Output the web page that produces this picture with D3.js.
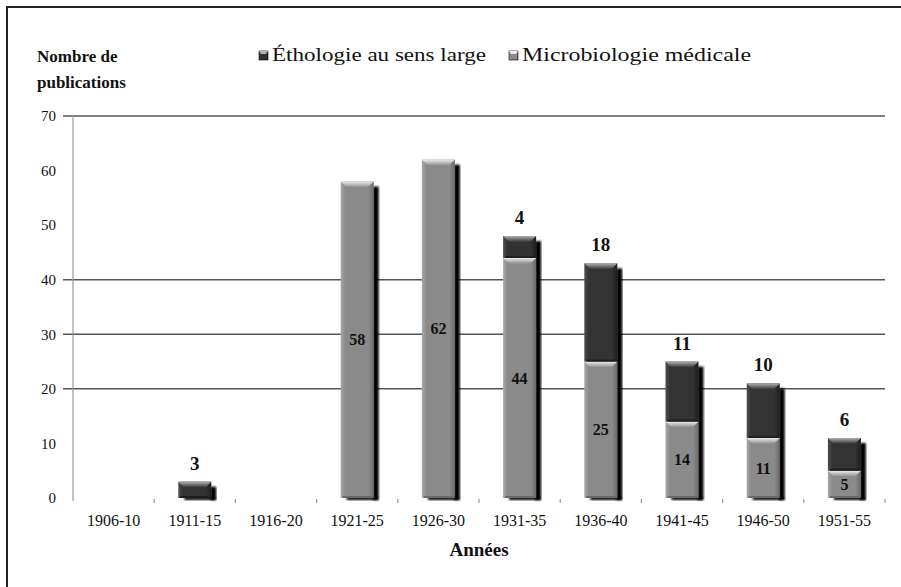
<!DOCTYPE html>
<html>
<head>
<meta charset="utf-8">
<script src="https://cdn.jsdelivr.net/npm/d3@7"></script>
<style>
  body { margin: 0; background: #fff; }
  svg text { fill: #111; }
</style>
</head>
<body>
<div id="chart"></div>
<script>
const width = 901;
const height = 587;
const margin = { top: 116, right: 16, bottom: 92, left: 73 };
const plotW = width - margin.left - margin.right;
const plotH = height - margin.top - margin.bottom;
const serif = "Liberation Serif";

// data
const periods = ["1906-10", "1911-15", "1916-20", "1921-25", "1926-30", "1931-35", "1936-40", "1941-45", "1946-50", "1951-55"];
const microbiologie = [0, 0, 0, 58, 62, 44, 25, 14, 11, 5];
const ethologie = [0, 3, 0, 0, 0, 4, 18, 11, 10, 6];
const yTicks = [0, 10, 20, 30, 40, 50, 60, 70];
const gridValues = [20, 30, 40, 70];
const seriesNames = ["Éthologie au sens large", "Microbiologie médicale"];

const colors = {
  micro: { base: "#8a8a8a", light: "#a8a8a8", dark: "#6a6a6a", bevel: "#ececec" },
  etho: { base: "#333333", light: "#4e4e4e", dark: "#1e1e1e", bevel: "#b0b0b0" }
};

const svg = d3.select("#chart")
  .append("svg")
  .attr("width", width)
  .attr("height", height);

const defs = svg.append("defs");
Object.entries(colors).forEach(([k, c]) => {
  const g = defs.append("linearGradient").attr("id", "grad-" + k)
    .attr("x1", "0%").attr("x2", "100%").attr("y1", "0%").attr("y2", "0%");
  g.append("stop").attr("offset", "0%").attr("stop-color", c.light);
  g.append("stop").attr("offset", "14%").attr("stop-color", c.base);
  g.append("stop").attr("offset", "84%").attr("stop-color", c.base);
  g.append("stop").attr("offset", "100%").attr("stop-color", c.dark);
  const b = defs.append("linearGradient").attr("id", "bevel-" + k)
    .attr("x1", "0%").attr("x2", "0%").attr("y1", "0%").attr("y2", "100%");
  b.append("stop").attr("offset", "0%").attr("stop-color", c.bevel);
  b.append("stop").attr("offset", "100%").attr("stop-color", c.base);
});
defs.append("filter").attr("id", "blur")
  .append("feGaussianBlur").attr("stdDeviation", 0.8);

// frame (top and left only)
svg.append("path")
  .attr("d", "M7,587 L7,7 L901,7")
  .attr("fill", "none")
  .attr("stroke", "#222")
  .attr("stroke-width", 2);

const g = svg.append("g")
  .attr("transform", "translate(" + margin.left + "," + margin.top + ")");

const x = d3.scaleBand().domain(periods).range([0, plotW]);
const y = d3.scaleLinear().domain([0, 70]).range([plotH + 3, 0]);

// gridlines
g.selectAll(".grid")
  .data(gridValues)
  .enter()
  .append("line")
  .attr("class", "grid")
  .attr("x1", -10)
  .attr("x2", plotW)
  .attr("y1", (d) => y(d))
  .attr("y2", (d) => y(d))
  .attr("stroke", "#555")
  .attr("stroke-width", 1.5);

// y axis
const yAxis = g.append("g")
  .call(d3.axisLeft(y).tickValues(yTicks).tickSize(0).tickPadding(17));
yAxis.select(".domain").attr("stroke", "#999").attr("stroke-width", 1.2)
  .attr("d", "M0," + y(70) + "V" + (plotH + 6));
yAxis.selectAll("text")
  .attr("font-family", serif)
  .attr("font-size", 15)
  .attr("fill", "#222");

// x axis
const xAxis = g.append("g")
  .attr("transform", "translate(0," + (plotH + 6) + ")")
  .call(d3.axisBottom(x).tickSize(0).tickPadding(14));
xAxis.select(".domain").remove();
xAxis.selectAll("text")
  .attr("font-family", serif)
  .attr("font-size", 16)
  .attr("fill", "#111");
g.selectAll(".xtick")
  .data(periods.slice(1).concat(["end"]))
  .enter()
  .append("line")
  .attr("x1", (d, i) => x.step() * (i + 1))
  .attr("x2", (d, i) => x.step() * (i + 1))
  .attr("y1", plotH + 4)
  .attr("y2", plotH + 8)
  .attr("stroke", "#999")
  .attr("stroke-width", 1.2);

// bars
const barW = 33;
const bars = periods.map((p, i) => ({
  period: p,
  micro: microbiologie[i],
  etho: ethologie[i],
  total: microbiologie[i] + ethologie[i]
}));

function drawSegment(sel, x0, y0, y1, key) {
  const h = y1 - y0;
  if (h <= 0) return;
  sel.append("rect")
    .attr("x", x0).attr("y", y0)
    .attr("width", barW).attr("height", h)
    .attr("fill", "url(#grad-" + key + ")");
  const bh = Math.min(6, h / 2);
  sel.append("path")
    .attr("d", "M" + x0 + "," + y0 + "H" + (x0 + barW) +
      "L" + (x0 + barW - 6) + "," + (y0 + bh) + "H" + (x0 + 6) + "Z")
    .attr("fill", "url(#bevel-" + key + ")");
  sel.append("line")
    .attr("x1", x0 + 2).attr("x2", x0 + barW - 1)
    .attr("y1", y1 - 1).attr("y2", y1 - 1)
    .attr("stroke", colors[key].dark).attr("stroke-width", 2);
}

const barG = g.selectAll(".bar")
  .data(bars.filter((d) => d.total > 0))
  .enter()
  .append("g")
  .attr("class", "bar");

barG.each(function (d) {
  const sel = d3.select(this);
  const x0 = x(d.period) + (x.bandwidth() - barW) / 2;
  // shadow
  sel.append("rect")
    .attr("x", x0 + barW - 1)
    .attr("y", y(d.total) + 5)
    .attr("width", 6)
    .attr("height", y(0) - y(d.total) - 3)
    .attr("fill", "#000")
    .attr("filter", "url(#blur)");
  sel.append("rect")
    .attr("x", x0 + 6)
    .attr("y", y(0) - 1)
    .attr("width", barW - 2)
    .attr("height", 3)
    .attr("fill", "#000")
    .attr("filter", "url(#blur)");
  drawSegment(sel, x0, y(d.micro), y(0), "micro");
  drawSegment(sel, x0, y(d.total), y(d.micro), "etho");
  if (d.micro > 0) {
    sel.append("text")
      .attr("x", x0 + barW / 2)
      .attr("y", y(d.micro / 2))
      .attr("dy", "0.35em")
      .attr("text-anchor", "middle")
      .attr("font-family", serif)
      .attr("font-size", 16)
      .attr("font-weight", "bold")
      .text(d.micro);
  }
  if (d.etho > 0) {
    sel.append("text")
      .attr("x", x0 + barW / 2)
      .attr("y", y(d.total) - 12)
      .attr("text-anchor", "middle")
      .attr("font-family", serif)
      .attr("font-size", 19)
      .attr("font-weight", "bold")
      .text(d.etho);
  }
});

// axis titles
svg.append("text")
  .attr("x", 37).attr("y", 62)
  .attr("font-family", serif)
  .attr("font-size", 17).attr("font-weight", "bold")
  .text("Nombre de");
svg.append("text")
  .attr("x", 37).attr("y", 88)
  .attr("font-family", serif)
  .attr("font-size", 17).attr("font-weight", "bold")
  .text("publications");
svg.append("text")
  .attr("x", margin.left + plotW / 2).attr("y", 556)
  .attr("text-anchor", "middle")
  .attr("font-family", serif)
  .attr("font-size", 19).attr("font-weight", "bold")
  .text("Années");

// legend
const legendX = [259, 509];
const legendKeys = ["etho", "micro"];
const legend = svg.selectAll(".legend")
  .data(seriesNames)
  .enter()
  .append("g")
  .attr("class", "legend")
  .attr("transform", (d, i) => "translate(" + legendX[i] + ",51)");
legend.append("rect")
  .attr("width", 9).attr("height", 9)
  .attr("fill", (d, i) => "url(#grad-" + legendKeys[i] + ")")
  .attr("stroke", "#000").attr("stroke-width", 0.6);
legend.append("path")
  .attr("d", "M0,0H9L7,3H2Z")
  .attr("fill", (d, i) => colors[legendKeys[i]].bevel);
legend.append("text")
  .attr("x", 13).attr("y", 10)
  .attr("font-family", serif)
  .attr("font-size", 18)
  .attr("textLength", (d, i) => (i === 0 ? 214 : 229))
  .attr("lengthAdjust", "spacingAndGlyphs")
  .text((d) => d);
</script>
</body>
</html>
